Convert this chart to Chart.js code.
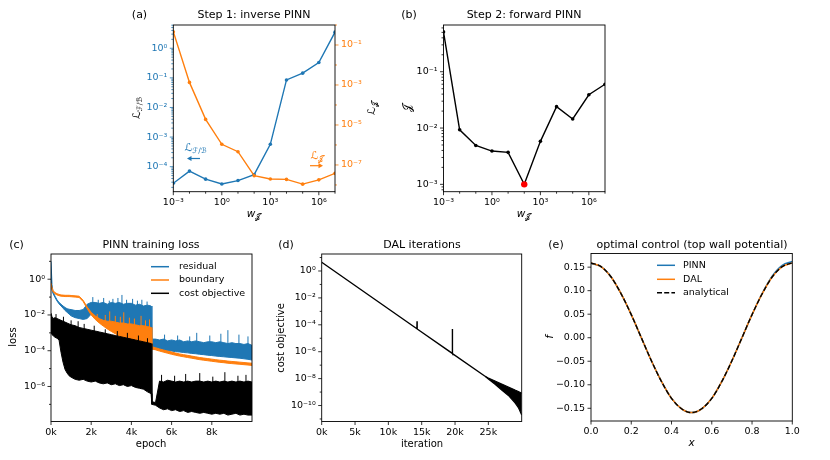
<!DOCTYPE html>
<html><head><meta charset="utf-8">
<script src="https://cdn.jsdelivr.net/npm/chart.js@4.4.0/dist/chart.umd.min.js"></script>
<style>
html,body{margin:0;padding:0;background:#fff;}
#wrap{position:relative;width:830px;height:460px;overflow:hidden;}
canvas{position:absolute;left:0;top:0;width:830px;height:460px;}
</style></head><body>
<div id="wrap">
<canvas id="ce" width="830" height="460"></canvas>
<canvas id="cd" width="830" height="460"></canvas>
<canvas id="cc" width="830" height="460"></canvas>
<canvas id="cb" width="830" height="460"></canvas>
<canvas id="ca" width="830" height="460"></canvas>
</div>
<script>
// ---------------- DATA ----------------
// (a) and (b): weight w_J
const wJ = [1e-3, 1e-2, 1e-1, 1, 1e1, 1e2, 1e3, 1e4, 1e5, 1e6, 1e7];
const lossFB = [2.75e-5, 7.1e-5, 3.8e-5, 2.6e-5, 3.4e-5, 5.4e-5, 5.7e-4, 8.5e-2, 1.44e-1, 3.3e-1, 3.5];
const lossJ = [4.6e-1, 1.35e-3, 1.9e-5, 1.08e-6, 4.6e-7, 2.9e-8, 2.0e-8, 1.9e-8, 1.1e-8, 1.8e-8, 3.8e-8];
const costJ = [5.1e-1, 9.3e-3, 4.9e-3, 3.9e-3, 3.7e-3, 1.0e-3, 5.8e-3, 2.4e-2, 1.45e-2, 3.9e-2, 6.0e-2];
const bestW = [1e2];
const bestJ = [1.0e-3];

// (c) PINN training loss: upper / lower envelopes of the noisy curves, as log10(loss)
const epochs = [0,50,100,200,300,400,500,600,700,800,900,1000,
  1200,1400,1600,1800,2000,2200,2400,2600,2800,3000,3200,3400,3600,3800,4000,4200,4400,4600,4800,
  4980,5020,
  5200,5400,5600,5800,6000,6200,6400,6600,6800,7000,7200,7400,7600,7800,8000,8200,8400,8600,8800,9000,9200,9400,9600,9800,10000];
const residualHiLog10 = [1.0,-0.3,-0.7,-0.95,-1.15,-1.3,-1.4,-1.5,-1.58,-1.65,-1.68,-1.7,
  -1.75,-1.75,-1.7,-1.4,-1.3,-1.3,-1.35,-1.3,-1.4,-1.3,-1.35,-1.3,-1.4,-1.35,-1.35,-1.45,-1.4,-1.5,-1.45,
  -1.5,-3.35,
  -3.35,-3.4,-3.35,-3.45,-3.4,-3.45,-3.4,-3.5,-3.45,-3.5,-3.45,-3.5,-3.55,-3.5,-3.5,-3.55,-3.5,-3.55,-3.6,-3.55,-3.6,-3.6,-3.65,-3.6,-3.7];
const residualLoLog10 = [-0.3,-0.6,-0.8,-1.02,-1.22,-1.38,-1.5,-1.62,-1.75,-1.85,-1.95,-2.05,
  -2.15,-2.2,-2.25,-2.2,-1.95,-2.2,-2.4,-2.55,-2.7,-2.85,-2.95,-3.05,-3.15,-3.25,-3.35,-3.45,-3.55,-3.6,-3.7,
  -3.75,-3.9,
  -3.92,-3.95,-3.98,-4.0,-4.02,-4.05,-4.07,-4.1,-4.12,-4.15,-4.17,-4.2,-4.22,-4.25,-4.27,-4.3,-4.32,-4.34,-4.36,-4.38,-4.4,-4.42,-4.45,-4.48,-4.52];
const boundaryHiLog10 = [-0.22,-0.48,-0.63,-0.75,-0.81,-0.85,-0.88,-0.89,-0.9,-0.9,-0.9,-0.91,
  -0.93,-0.95,-1.18,-1.55,-1.85,-2.05,-2.2,-2.3,-2.35,-2.35,-2.4,-2.45,-2.45,-2.5,-2.5,-2.55,-2.6,-2.6,-2.65,
  -2.7,-3.78,
  -3.83,-3.9,-3.96,-4.02,-4.07,-4.13,-4.18,-4.22,-4.26,-4.3,-4.34,-4.38,-4.41,-4.44,-4.47,-4.5,-4.53,-4.55,-4.58,-4.6,-4.62,-4.64,-4.66,-4.68,-4.7];
const boundaryLoLog10 = [-0.3,-0.55,-0.7,-0.82,-0.88,-0.92,-0.95,-0.96,-0.97,-0.97,-0.97,-0.98,
  -1.0,-1.02,-1.25,-1.65,-2.0,-2.25,-2.45,-2.62,-2.78,-2.92,-3.05,-3.17,-3.28,-3.38,-3.47,-3.56,-3.64,-3.72,-3.8,
  -3.86,-3.9,
  -3.95,-4.02,-4.08,-4.14,-4.2,-4.25,-4.3,-4.34,-4.38,-4.42,-4.46,-4.5,-4.53,-4.56,-4.59,-4.62,-4.65,-4.67,-4.7,-4.72,-4.74,-4.76,-4.78,-4.8,-4.82];
const costHiLog10 = [-1.9,-2.1,-2.2,-2.15,-2.2,-2.25,-2.3,-2.35,-2.4,-2.45,-2.5,-2.55,
  -2.6,-2.7,-2.75,-2.8,-2.85,-2.9,-2.95,-3.0,-3.05,-3.1,-3.15,-3.2,-3.25,-3.3,-3.35,-3.4,-3.45,-3.5,-3.55,
  -3.6,-6.85,
  -6.9,-5.7,-5.75,-5.65,-5.7,-5.75,-5.7,-5.75,-5.7,-5.75,-5.7,-5.7,-5.75,-5.7,-5.75,-5.7,-5.75,-5.7,-5.75,-5.7,-5.75,-5.7,-5.75,-5.7,-5.75];
const costLoLog10 = [-3.0,-3.1,-3.15,-3.25,-3.3,-3.4,-4.1,-4.65,-5.05,-5.25,-5.4,-5.48,
  -5.6,-5.65,-5.6,-5.7,-5.75,-5.7,-5.8,-5.85,-5.8,-5.9,-5.85,-5.95,-5.9,-6.0,-5.95,-6.05,-6.1,-6.15,-6.3,
  -6.4,-7.0,
  -7.05,-7.2,-7.3,-7.25,-7.35,-7.3,-7.4,-7.35,-7.45,-7.4,-7.45,-7.5,-7.45,-7.5,-7.55,-7.5,-7.55,-7.5,-7.6,-7.55,-7.5,-7.6,-7.55,-7.6,-7.6];
// isolated spikes of the noisy curves (epoch, log10 bottom, log10 top)
const residualSpikeEpoch = [2080,2350,2620,2900,3080,3330,3530,3760,4060,4300,4520,4780,5650,6300,6900,7250,7900,8450,8800,9350,9800];
const residualSpikeLoLog10 = [-1.6,-1.6,-1.6,-1.6,-1.6,-1.6,-1.6,-1.6,-1.6,-1.6,-1.6,-1.6,-3.7,-3.7,-3.7,-3.7,-3.7,-3.7,-3.7,-3.7,-3.7];
const residualSpikeHiLog10 = [-1.0,-1.15,-1.05,-1.2,-1.1,-1.05,-0.88,-1.15,-1.1,-1.2,-1.15,-1.25,-3.1,-3.15,-3.2,-3.0,-3.15,-3.05,-2.85,-3.1,-3.2];
const boundarySpikeEpoch = [2300,2700,2920,3200,3450,3620,3900,4150,4480,4700,4900];
const boundarySpikeLoLog10 = [-2.2,-2.4,-2.5,-2.55,-2.6,-2.65,-2.7,-2.75,-2.75,-2.8,-2.85];
const boundarySpikeHiLog10 = [-1.95,-2.0,-1.8,-2.05,-2.1,-1.85,-2.15,-2.2,-2.05,-2.3,-2.25];
const costSpikeEpoch = [250,620,1000,1350,1650,2150,2700,3300,3800,4350,4800,5500,6150,6700,7400,8050,8650,9300,9700];
const costSpikeLoLog10 = [-2.5,-2.6,-2.8,-3.0,-3.0,-3.2,-3.3,-3.4,-3.5,-3.6,-3.8,-6.0,-6.0,-6.0,-6.0,-6.0,-6.0,-6.0,-6.0];
const costSpikeHiLog10 = [-1.95,-2.1,-2.3,-2.35,-2.5,-2.6,-2.8,-2.9,-3.0,-3.15,-3.3,-5.35,-5.4,-5.3,-5.25,-5.45,-5.2,-5.4,-5.35];

// (d) DAL iterations
const dalIter = [0, 14280, 14300, 14320, 19580, 19600, 19620, 24500];
const dalCost = [4.47, 5.1e-5, 1.86e-4, 4.9e-5, 7.6e-7, 4.8e-5, 7.2e-7, 1.5e-8];
const dalTailIter = [24500, 25000, 26000, 27000, 28000, 29000, 29500, 30000];
const dalTailHi = [1.5e-8, 1.12e-8, 6.6e-9, 4.0e-9, 2.4e-9, 1.41e-9, 1.1e-9, 8.3e-10];
const dalTailLo = [1.5e-8, 9.3e-9, 3.8e-9, 1.41e-9, 5.6e-10, 1.58e-10, 7.1e-11, 2.0e-11];

// (e) optimal control
const xCtrl = [0,0.05,0.1,0.15,0.2,0.25,0.3,0.35,0.4,0.45,0.5,0.55,0.6,0.65,0.7,0.75,0.8,0.85,0.9,0.95,1.0];
const fPINN = [0.158,0.151,0.129,0.093,0.049,0.000,-0.049,-0.093,-0.129,-0.151,-0.159,-0.151,-0.129,-0.093,-0.049,0.000,0.049,0.094,0.131,0.154,0.162];
const fDAL = [0.159,0.151,0.129,0.093,0.049,0.000,-0.049,-0.093,-0.129,-0.151,-0.159,-0.151,-0.129,-0.093,-0.049,0.000,0.049,0.093,0.129,0.151,0.159];
const fAnalytical = [0.159,0.151,0.129,0.093,0.049,0.000,-0.049,-0.093,-0.129,-0.151,-0.159,-0.151,-0.129,-0.093,-0.049,0.000,0.049,0.093,0.129,0.151,0.159];

// tick labels
const wTickExps = [-3, 0, 3, 6];
const lossFBTickExps = [0, -1, -2, -3, -4];
const lossJTickExps = [-1, -3, -5, -7];
const costJTickExps = [-1, -2, -3];
const trainTickExps = [0, -2, -4, -6];
const dalTickExps = [0, -2, -4, -6, -8, -10];
const epochTicks = [0, 2000, 4000, 6000, 8000];
const iterTicks = [0, 5000, 10000, 15000, 20000, 25000];
const xCtrlTicks = [0, 0.2, 0.4, 0.6, 0.8, 1.0];
const fTicks = [-0.15, -0.10, -0.05, 0.00, 0.05, 0.10, 0.15];

// ---------------- HELPERS ----------------
const BLUE = '#1f77b4', ORANGE = '#ff7f0e';
const FAM = '"DejaVu Sans", sans-serif';
Chart.defaults.font.family = FAM;
Chart.defaults.font.size = 9.5;
Chart.defaults.color = '#000';
const SUP = {'-':'\u207B','0':'\u2070','1':'\u00B9','2':'\u00B2','3':'\u00B3','4':'\u2074','5':'\u2075','6':'\u2076','7':'\u2077','8':'\u2078','9':'\u2079'};
function pow10Label(v){ const e = Math.round(Math.log10(v)); return '10' + String(e).split('').map(c => SUP[c]).join(''); }
const CAL_L = '\u2112', CAL_F = '\u2131', CAL_B = '\u212C', CAL_J = '\uD835\uDCA5';

function logTickList(min, max, majorExps, minorExps, subs) {
  const out = [];
  majorExps.forEach(e => out.push({value: Math.pow(10, e), major: true}));
  (minorExps || []).forEach(e => out.push({value: Math.pow(10, e), major: false}));
  if (subs) {
    for (let e = Math.floor(Math.log10(min)); e <= Math.ceil(Math.log10(max)); e++)
      for (let k = 2; k <= 9; k++) out.push({value: k * Math.pow(10, e), major: false});
  }
  return out.filter(t => t.value >= min * 0.9999 && t.value <= max * 1.0001).sort((a, b) => a.value - b.value);
}
function fitAxis(s){ if (s.isHorizontal()) s.height = 30; else s.width = 40; }
function logScale(pos, min, max, tickList, color) {
  return {
    type: 'logarithmic', position: pos, min, max,
    grid: {display: false, drawTicks: false}, border: {display: false},
    ticks: {autoSkip: false, maxRotation: 0, minRotation: 0, padding: pos === 'bottom' ? 5 : 6, color: color || '#000',
      callback: (v, i, t) => (t[i] && t[i].major) ? pow10Label(v) : ''},
    afterBuildTicks: s => { s.ticks = tickList.map(t => ({value: t.value, major: t.major})); },
    afterFit: fitAxis
  };
}
function linScale(pos, min, max, vals, fmt) {
  return {
    type: 'linear', position: pos, min, max,
    grid: {display: false, drawTicks: false}, border: {display: false},
    ticks: {autoSkip: false, maxRotation: 0, minRotation: 0, padding: pos === 'bottom' ? 5 : 6,
      callback: (v) => fmt(v)},
    afterBuildTicks: s => { s.ticks = vals.map(v => ({value: v, major: true})); },
    afterFit: fitAxis
  };
}
function drawSegs(ctx, x, y, segs, rot, color) {
  ctx.save(); ctx.translate(x, y); if (rot) ctx.rotate(rot);
  ctx.fillStyle = color || '#000'; ctx.textBaseline = 'middle'; ctx.textAlign = 'left';
  let w = 0;
  segs.forEach(s => { ctx.font = s.f; s.w = ctx.measureText(s.t).width; w += s.w; });
  let cx = -w / 2;
  segs.forEach(s => { ctx.font = s.f; ctx.fillText(s.t, cx, s.dy || 0); cx += s.w; });
  ctx.restore();
}
const F11 = '11px ' + FAM, F10 = '10px ' + FAM, F95 = '9.5px ' + FAM, F7 = '7.5px ' + FAM, FI10 = 'oblique 10.5px ' + FAM;
const T = (t, f, dy) => ({t, f: f || F11, dy: dy || 0});

const deco = {
  id: 'deco',
  afterDraw(chart, args, o) {
    const ctx = chart.ctx, a = chart.chartArea;
    ctx.save();
    Object.values(chart.scales).forEach(s => {
      ctx.strokeStyle = (o.tickColors && o.tickColors[s.id]) || '#000';
      ctx.lineWidth = 0.8;
      s.ticks.forEach(t => {
        const p = s.getPixelForValue(t.value), L = t.major ? 3.5 : 2;
        ctx.beginPath();
        if (s.position === 'bottom') { ctx.moveTo(p, a.bottom); ctx.lineTo(p, a.bottom + L); }
        else if (s.position === 'left') { ctx.moveTo(a.left, p); ctx.lineTo(a.left - L, p); }
        else { ctx.moveTo(a.right, p); ctx.lineTo(a.right + L, p); }
        ctx.stroke();
      });
    });
    ctx.strokeStyle = '#000'; ctx.lineWidth = 0.9;
    ctx.strokeRect(a.left, a.top, a.right - a.left, a.bottom - a.top);
    (o.texts || []).forEach(tx => drawSegs(ctx, tx.x, tx.y, tx.segs, tx.rot, tx.color));
    (o.arrows || []).forEach(ar => {
      ctx.strokeStyle = ar.color; ctx.fillStyle = ar.color; ctx.lineWidth = 1.2;
      const dir = Math.sign(ar.x2 - ar.x1);
      ctx.beginPath(); ctx.moveTo(ar.x1, ar.y); ctx.lineTo(ar.x2 - dir * 3, ar.y); ctx.stroke();
      ctx.beginPath(); ctx.moveTo(ar.x2, ar.y); ctx.lineTo(ar.x2 - dir * 4.5, ar.y - 2.6); ctx.lineTo(ar.x2 - dir * 4.5, ar.y + 2.6); ctx.closePath(); ctx.fill();
    });
    (o.legend || []).forEach(it => {
      ctx.strokeStyle = it.color; ctx.lineWidth = 1.5; ctx.setLineDash(it.dash || []);
      ctx.beginPath(); ctx.moveTo(it.x1, it.y); ctx.lineTo(it.x2, it.y); ctx.stroke();
      ctx.setLineDash([]);
      ctx.fillStyle = '#000'; ctx.font = F95; ctx.textBaseline = 'middle'; ctx.textAlign = 'left';
      ctx.fillText(it.label, it.tx, it.y);
    });
    ctx.restore();
  }
};
const baseOpts = (padding, scales, decoOpts) => ({
  animation: false, responsive: false, events: [],
  layout: {padding},
  plugins: {legend: {display: false}, tooltip: {enabled: false}, title: {display: false}, deco: decoOpts},
  scales
});
const pts = (xs, ys) => xs.map((x, i) => ({x, y: ys[i]}));
const ptsLog = (xs, ls) => xs.map((x, i) => ({x, y: Math.pow(10, ls[i])}));
const ROT = -Math.PI / 2;

// ---------------- (a) ----------------
new Chart(document.getElementById('ca'), {
  type: 'line',
  data: {datasets: [
    {data: pts(wJ, lossJ), yAxisID: 'y2', borderColor: ORANGE, backgroundColor: ORANGE, borderWidth: 1.4, pointRadius: 1.8, pointBorderWidth: 0, tension: 0, fill: false},
    {data: pts(wJ, lossFB), yAxisID: 'y', borderColor: BLUE, backgroundColor: BLUE, borderWidth: 1.4, pointRadius: 1.8, pointBorderWidth: 0, tension: 0, fill: false}
  ]},
  options: baseOpts({left: 133.3, right: 455, top: 25, bottom: 238.3}, {
    x: logScale('bottom', 1e-3, 1e7, logTickList(1e-3, 1e7, wTickExps, [-2, -1, 1, 2, 4, 5, 7], false)),
    y: logScale('left', 1.43e-5, 6.1, logTickList(1.43e-5, 6.1, lossFBTickExps, [], true), BLUE),
    y2: logScale('right', 4.6e-9, 1.0, logTickList(4.6e-9, 1.0, lossJTickExps, [0, -2, -4, -6, -8], false), ORANGE)
  }, {
    tickColors: {y: BLUE, y2: ORANGE},
    texts: [
      {x: 139.5, y: 15, segs: [T('(a)')]},
      {x: 254, y: 15, segs: [T('Step 1: inverse PINN')]},
      {x: 137, y: 108, rot: ROT, segs: [T(CAL_L, F11), T(CAL_F + '/' + CAL_B, F7, 2.8)]},
      {x: 372, y: 108, rot: ROT, segs: [T(CAL_L, F11), T(CAL_J, F7, 2.8)]},
      {x: 254, y: 214, segs: [T('w', FI10), T(CAL_J, F7, 2.8)]},
      {x: 195.5, y: 148.5, color: BLUE, segs: [T(CAL_L, F11), T(CAL_F + '/' + CAL_B, F7, 2.8)]},
      {x: 317.5, y: 156, color: ORANGE, segs: [T(CAL_L, F11), T(CAL_J, F7, 2.8)]}
    ],
    arrows: [
      {x1: 200, x2: 187, y: 158.5, color: BLUE},
      {x1: 310, x2: 323, y: 165.7, color: ORANGE}
    ]
  }),
  plugins: [deco]
});

// ---------------- (b) ----------------
new Chart(document.getElementById('cb'), {
  type: 'line',
  data: {datasets: [
    {data: pts(bestW, bestJ), borderColor: 'red', backgroundColor: 'red', showLine: false, pointRadius: 3.2, pointBorderWidth: 0},
    {data: pts(wJ, costJ), borderColor: '#000', backgroundColor: '#000', borderWidth: 1.4, pointRadius: 1.8, pointBorderWidth: 0, tension: 0, fill: false}
  ]},
  options: baseOpts({left: 403.5, right: 225, top: 25, bottom: 238.3}, {
    x: logScale('bottom', 1e-3, 1e7, logTickList(1e-3, 1e7, wTickExps, [-2, -1, 1, 2, 4, 5, 7], false)),
    y: logScale('left', 7.4e-4, 0.676, logTickList(7.4e-4, 0.676, costJTickExps, [], true))
  }, {
    texts: [
      {x: 409, y: 15, segs: [T('(b)')]},
      {x: 524, y: 15, segs: [T('Step 2: forward PINN')]},
      {x: 408.5, y: 108, rot: ROT, segs: [T(CAL_J, F11)]},
      {x: 524, y: 214, segs: [T('w', FI10), T(CAL_J, F7, 2.8)]}
    ]
  }),
  plugins: [deco]
});

// ---------------- (c) ----------------
function band(xs, hi, lo, color) {
  return [
    {data: ptsLog(xs, hi), borderColor: color, backgroundColor: color, borderWidth: 1, pointRadius: 0, tension: 0, fill: '+1'},
    {data: ptsLog(xs, lo), borderColor: color, backgroundColor: color, borderWidth: 1, pointRadius: 0, tension: 0, fill: false}
  ];
}
function spikes(xs, lo, hi, color) {
  const d = [];
  xs.forEach((x, i) => { d.push({x, y: Math.pow(10, lo[i])}, {x, y: Math.pow(10, hi[i])}, {x, y: null}); });
  return {data: d, borderColor: color, borderWidth: 1, pointRadius: 0, tension: 0, fill: false, spanGaps: false};
}
new Chart(document.getElementById('cc'), {
  type: 'line',
  data: {datasets: [
    spikes(costSpikeEpoch, costSpikeLoLog10, costSpikeHiLog10, '#000'),
    ...band(epochs, costHiLog10, costLoLog10, '#000'),
    spikes(boundarySpikeEpoch, boundarySpikeLoLog10, boundarySpikeHiLog10, ORANGE),
    ...band(epochs, boundaryHiLog10, boundaryLoLog10, ORANGE),
    spikes(residualSpikeEpoch, residualSpikeLoLog10, residualSpikeHiLog10, BLUE),
    ...band(epochs, residualHiLog10, residualLoLog10, BLUE)
  ]},
  options: baseOpts({left: 11, right: 578, top: 254, bottom: 8.5}, {
    x: linScale('bottom', 0, 10000, epochTicks, v => (v / 1000) + 'k'),
    y: logScale('left', 1.1e-8, 25.7, logTickList(1.1e-8, 25.7, trainTickExps, [1, -1, -3, -5, -7], false))
  }, {
    texts: [
      {x: 16.5, y: 245, segs: [T('(c)')]},
      {x: 151, y: 245, segs: [T('PINN training loss')]},
      {x: 13, y: 337, rot: ROT, segs: [T('loss', F10)]},
      {x: 151, y: 444, segs: [T('epoch', F10)]}
    ],
    legend: [
      {x1: 151, x2: 169, tx: 179, y: 266.7, color: BLUE, label: 'residual'},
      {x1: 151, x2: 169, tx: 179, y: 280, color: ORANGE, label: 'boundary'},
      {x1: 151, x2: 169, tx: 179, y: 293.3, color: '#000', label: 'cost objective'}
    ]
  }),
  plugins: [deco]
});

// ---------------- (d) ----------------
new Chart(document.getElementById('cd'), {
  type: 'line',
  data: {datasets: [
    {data: pts(dalIter, dalCost), borderColor: '#000', borderWidth: 1.4, pointRadius: 0, tension: 0, fill: false},
    {data: pts(dalTailIter, dalTailHi), borderColor: '#000', backgroundColor: '#000', borderWidth: 1.2, pointRadius: 0, tension: 0, fill: '+1'},
    {data: pts(dalTailIter, dalTailLo), borderColor: '#000', backgroundColor: '#000', borderWidth: 1.2, pointRadius: 0, tension: 0, fill: false}
  ]},
  options: baseOpts({left: 281.7, right: 308.3, top: 254, bottom: 8.5}, {
    x: linScale('bottom', 0, 30000, iterTicks, v => (v / 1000) + 'k'),
    y: logScale('left', 6.5e-12, 18.3, logTickList(6.5e-12, 18.3, dalTickExps, [1, -1, -3, -5, -7, -9, -11], false))
  }, {
    texts: [
      {x: 286, y: 245, segs: [T('(d)')]},
      {x: 422, y: 245, segs: [T('DAL iterations')]},
      {x: 281.5, y: 338, rot: ROT, segs: [T('cost objective', F10)]},
      {x: 422, y: 444, segs: [T('iteration', F10)]}
    ]
  }),
  plugins: [deco]
});

// ---------------- (e) ----------------
new Chart(document.getElementById('ce'), {
  type: 'line',
  data: {datasets: [
    {data: pts(xCtrl, fAnalytical), borderColor: '#000', borderWidth: 1.4, borderDash: [5, 2.2], pointRadius: 0, cubicInterpolationMode: 'monotone', fill: false},
    {data: pts(xCtrl, fDAL), borderColor: ORANGE, borderWidth: 1.5, pointRadius: 0, cubicInterpolationMode: 'monotone', fill: false},
    {data: pts(xCtrl, fPINN), borderColor: BLUE, borderWidth: 1.5, pointRadius: 0, cubicInterpolationMode: 'monotone', fill: false}
  ]},
  options: baseOpts({left: 551, right: 37.7, top: 253.5, bottom: 9}, {
    x: linScale('bottom', 0, 1, xCtrlTicks, v => v.toFixed(1)),
    y: linScale('left', -0.177, 0.179, fTicks, v => (v < -1e-9 ? '\u2212' : '') + Math.abs(v).toFixed(2))
  }, {
    texts: [
      {x: 556, y: 245, segs: [T('(e)')]},
      {x: 692, y: 245, segs: [T('optimal control (top wall potential)')]},
      {x: 550, y: 337, rot: ROT, segs: [T('f', FI10)]},
      {x: 691.5, y: 443.5, segs: [T('x', FI10)]}
    ],
    legend: [
      {x1: 657, x2: 675, tx: 683, y: 265.3, color: BLUE, label: 'PINN'},
      {x1: 657, x2: 675, tx: 683, y: 279.3, color: ORANGE, label: 'DAL'},
      {x1: 657, x2: 675, tx: 683, y: 292.7, color: '#000', dash: [5, 2.2], label: 'analytical'}
    ]
  }),
  plugins: [deco]
});
</script>
</body></html>
